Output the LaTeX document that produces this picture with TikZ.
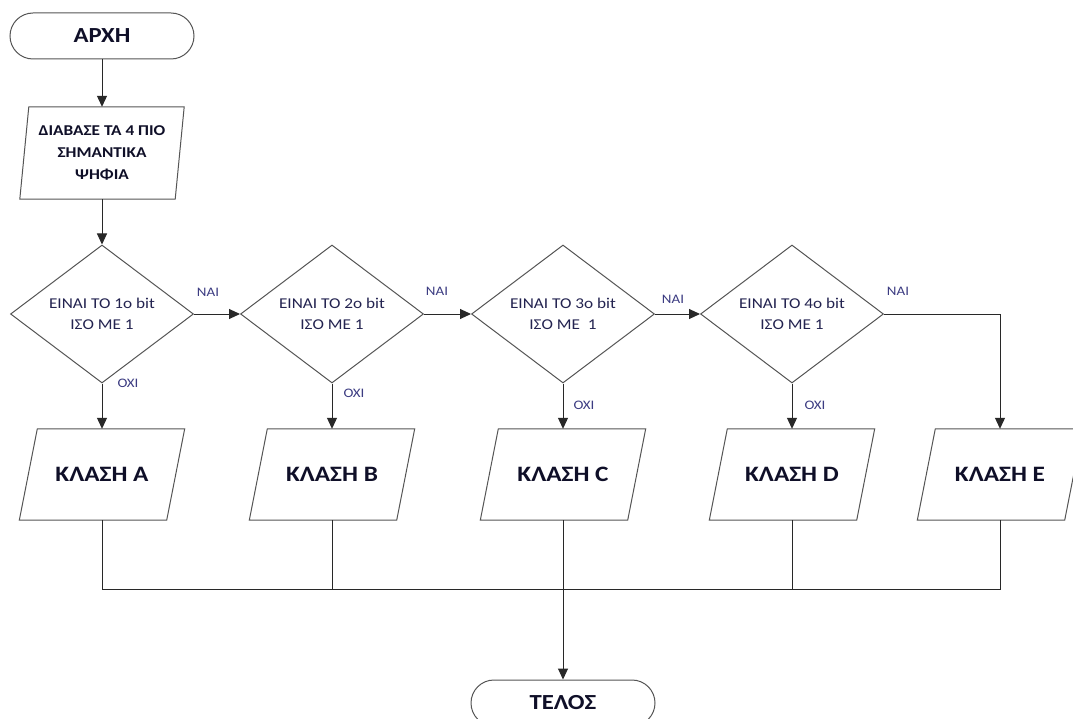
\documentclass[tikz,border=0pt]{standalone}
\usepackage{fontspec}
\setmainfont{Carlito}[FakeStretch=1.15]
\usetikzlibrary{shapes.geometric,arrows.meta}
\definecolor{navy}{RGB}{35,35,80}
\definecolor{darknavy}{RGB}{15,15,40}
\definecolor{lblc}{RGB}{60,60,130}
\definecolor{edgec}{RGB}{85,85,85}
\definecolor{connc}{RGB}{40,40,40}
\begin{document}
\begin{tikzpicture}[x=1pt,y=-1pt,
  term/.style={draw=edgec, line width=1pt, rounded corners=23pt, minimum width=184pt, minimum height=46pt, inner sep=0pt, text=darknavy, font=\fontsize{21.5}{24}\selectfont\bfseries},
  para/.style={minimum height=91pt, inner sep=0pt, align=center, text=darknavy},
  dec/.style={draw=edgec, line width=1pt, diamond, aspect=1.33, minimum width=183pt, minimum height=138pt, inner sep=0pt, align=center, text=navy, font=\fontsize{15}{21}\selectfont},
  lbl/.style={text=lblc, font=\fontsize{13}{15}\selectfont, inner sep=0pt},
  conn/.style={draw=connc, line width=1pt, -{Triangle[length=11pt,width=10pt]}},
  plain/.style={draw=connc, line width=1pt},
  shapeline/.style={draw=edgec, line width=1pt, line join=miter}]
\useasboundingbox (0,0) rectangle (1073,719);
\clip (0,0) rectangle (1073,719);
\fill[white] (0,0) rectangle (1073,719);

% terminals
\node[term] (start) at (102,36) {ΑΡΧΗ};
\node[term] (end) at (563,703) {ΤΕΛΟΣ};

% input
\node[para, minimum width=155pt, minimum height=92pt, font=\fontsize{15}{22}\selectfont\bfseries] (in) at (102,153) {ΔΙΑΒΑΣΕ ΤΑ 4 ΠΙΟ\\ΣΗΜΑΝΤΙΚΑ\\ΨΗΦΙΑ};

% decisions
\node[dec] (d1) at (102,314) {ΕΙΝΑΙ ΤΟ 1ο bit\\ΙΣΟ ΜΕ 1};
\node[dec] (d2) at (332,314) {ΕΙΝΑΙ ΤΟ 2ο bit\\ΙΣΟ ΜΕ 1};
\node[dec] (d3) at (563,314) {ΕΙΝΑΙ ΤΟ 3ο bit\\ΙΣΟ ΜΕ~~1};
\node[dec] (d4) at (792,314) {ΕΙΝΑΙ ΤΟ 4ο bit\\ΙΣΟ ΜΕ 1};

% classes
\tikzset{cls/.style={para, minimum width=147pt, font=\fontsize{22}{24}\selectfont\bfseries}}
\node[cls] (cA) at (102,474.5) {ΚΛΑΣΗ A};
\node[cls] (cB) at (332,474.5) {ΚΛΑΣΗ B};
\node[cls] (cC) at (563,474.5) {ΚΛΑΣΗ C};
\node[cls] (cD) at (792,474.5) {ΚΛΑΣΗ D};
\node[cls] (cE) at (1000,474.5) {ΚΛΑΣΗ E};

% parallelogram outlines
\foreach \n/\s in {in/4.5, cA/9, cB/9, cC/9, cD/9, cE/9}
  \draw[shapeline] ([xshift=\s pt]\n.north west) -- ([xshift=\s pt]\n.north east)
    -- ([xshift=-\s pt]\n.south east) -- ([xshift=-\s pt]\n.south west) -- cycle;

% connectors
\draw[conn] (start.south) -- (in.north);
\draw[conn] (in.south) -- (d1.north);
\draw[conn] (d1.east) -- (d2.west);
\draw[conn] (d2.east) -- (d3.west);
\draw[conn] (d3.east) -- (d4.west);
\draw[conn] (d4.east) -| (cE.north);
\draw[conn] (d1.south) -- (cA.north);
\draw[conn] (d2.south) -- (cB.north);
\draw[conn] (d3.south) -- (cC.north);
\draw[conn] (d4.south) -- (cD.north);

\coordinate (bus) at (0,589);
\draw[plain] (cA.south) |- (bus -| cE.south) -- (cE.south);
\draw[plain] (cB.south) -- (cB.south |- bus);
\draw[plain] (cD.south) -- (cD.south |- bus);
\draw[conn] (cC.south) -- (end.north);

% labels
\node[lbl] at ([shift={(14,-22)}]d1.east) {ΝΑΙ};
\node[lbl] at ([shift={(13,-23)}]d2.east) {ΝΑΙ};
\node[lbl] at ([shift={(18,-15)}]d3.east) {ΝΑΙ};
\node[lbl] at ([shift={(14,-23)}]d4.east) {ΝΑΙ};
\node[lbl] at ([shift={(26,0)}]d1.south) {ΟΧΙ};
\node[lbl] at ([shift={(22,10)}]d2.south) {ΟΧΙ};
\node[lbl] at ([shift={(21,22)}]d3.south) {ΟΧΙ};
\node[lbl] at ([shift={(23,22)}]d4.south) {ΟΧΙ};
\end{tikzpicture}
\end{document}
